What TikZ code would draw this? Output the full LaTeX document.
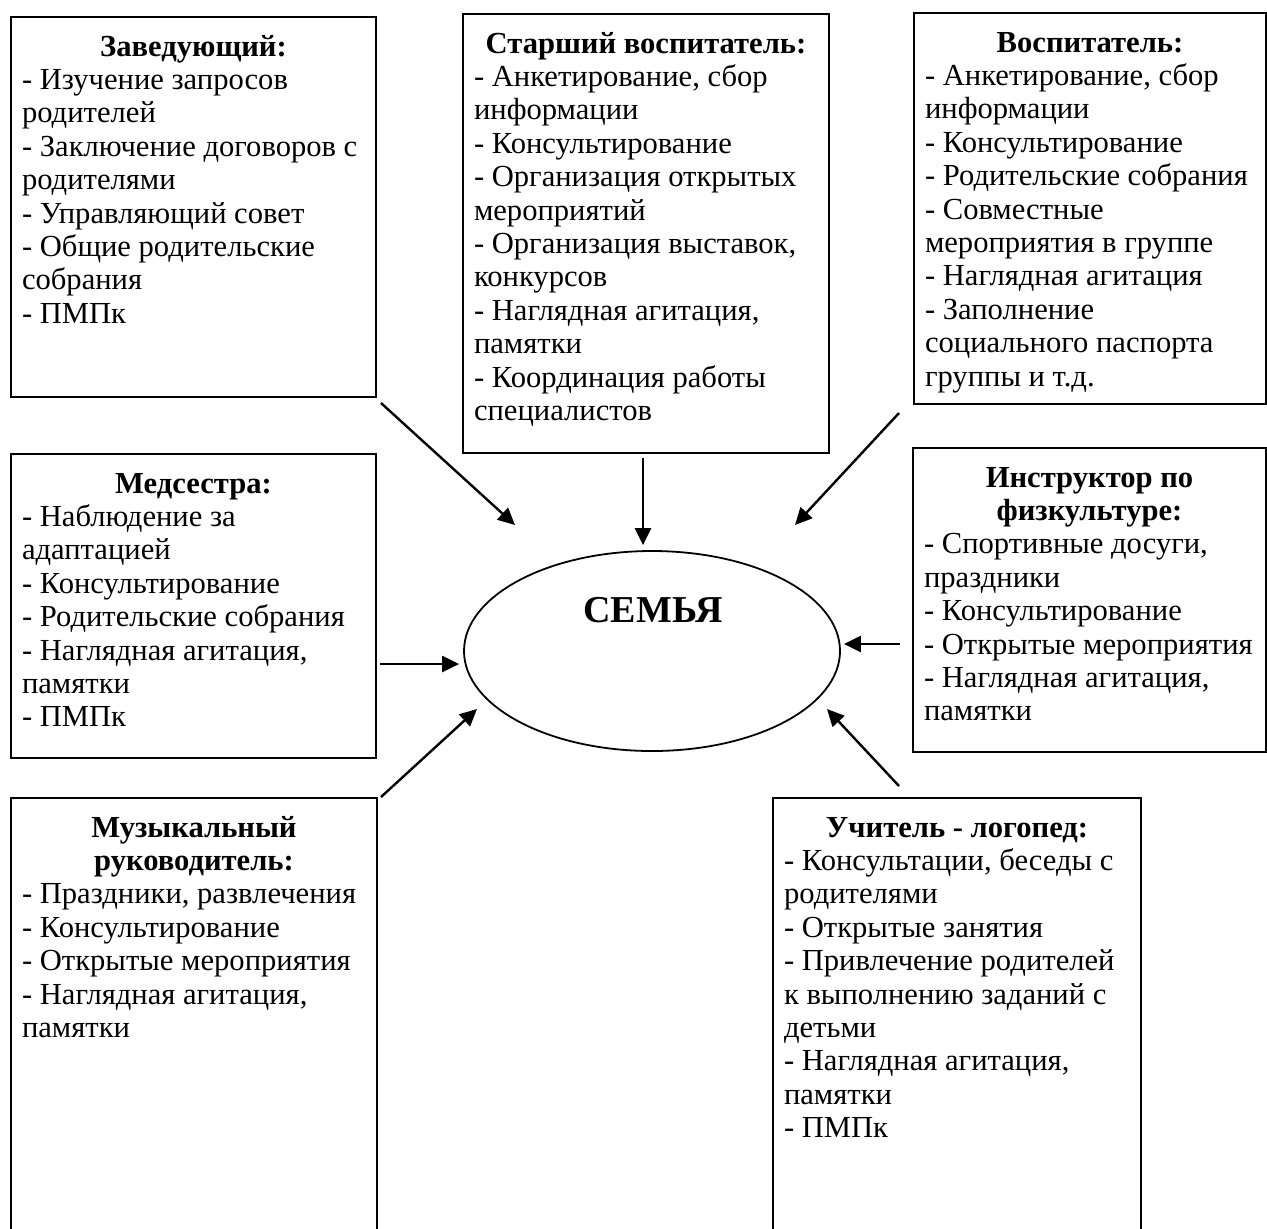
\documentclass[tikz,border=0pt]{standalone}
\usepackage{fontspec}
\setmainfont{Liberation Serif}
\usetikzlibrary{arrows.meta,shapes.geometric}

\newcommand{\cell}[3]{\parbox[t][#2][t]{#1}{\raggedright #3}}
\newcommand{\ttl}[1]{{\centering\bfseries\rule{0pt}{13.5pt}#1\par}}

\tikzset{
  box/.style={draw, line width=1pt, anchor=north west, inner xsep=5.5pt, inner ysep=6pt,
    font=\fontsize{15.3pt}{16.7pt}\selectfont},
  family/.style={draw, ellipse, line width=0.9pt, minimum width=188pt, minimum height=100pt, inner sep=0pt},
  link/.style={line width=1.2pt, -{Triangle[length=8.5pt,width=8pt]}}
}

\begin{document}
\begin{tikzpicture}[x=0.5pt, y=-0.5pt]
\useasboundingbox (0,0) rectangle (1267,1228);

% top row
\node[box] (zav) at (10,16) {\cell{171.5pt}{178pt}{\ttl{Заведующий:}
  - Изучение запросов\\ родителей\\
  - Заключение договоров с\\ родителями\\
  - Управляющий совет\\
  - Общие родительские\\ собрания\\
  - ПМПк}};
\node[box] (star) at (462,13) {\cell{172pt}{207.5pt}{\ttl{Старший воспитатель:}
  - Анкетирование, сбор\\ информации\\
  - Консультирование\\
  - Организация открытых\\ мероприятий\\
  - Организация выставок,\\ конкурсов\\
  - Наглядная агитация,\\ памятки\\
  - Координация работы\\ специалистов}};
\node[box] (vosp) at (913,12) {\cell{165pt}{183.5pt}{\ttl{Воспитатель:}
  - Анкетирование, сбор\\ информации\\
  - Консультирование\\
  - Родительские собрания\\
  - Совместные\\ мероприятия в группе\\
  - Наглядная агитация\\
  - Заполнение\\ социального паспорта\\ группы и т.д.}};

% middle row
\node[box] (med) at (10,453) {\cell{171.5pt}{140pt}{\ttl{Медсестра:}
  - Наблюдение за\\ адаптацией\\
  - Консультирование\\
  - Родительские собрания\\
  - Наглядная агитация,\\ памятки\\
  - ПМПк}};
\node[box] (instr) at (912,447) {\cell{165.5pt}{140pt}{\ttl{Инструктор по\\ физкультуре:}
  - Спортивные досуги,\\ праздники\\
  - Консультирование\\
  - Открытые мероприятия\\
  - Наглядная агитация,\\ памятки}};

% bottom row
\node[box] (muz) at (10,797) {\cell{172pt}{218pt}{\ttl{Музыкальный\\ руководитель:}
  - Праздники, развлечения\\
  - Консультирование\\
  - Открытые мероприятия\\
  - Наглядная агитация,\\ памятки}};
\node[box] (log) at (772,797) {\cell{173pt}{218pt}{\ttl{Учитель - логопед:}
  - Консультации, беседы с\\ родителями\\
  - Открытые занятия\\
  - Привлечение родителей\\ к выполнению заданий с\\ детьми\\
  - Наглядная агитация,\\ памятки\\
  - ПМПк}};

% centre
\node[family] (fam) at (652,651) {};
\node[font=\fontsize{19pt}{23pt}\selectfont\bfseries] (famtxt) at (653,610) {СЕМЬЯ};

% arrow ends
\coordinate (fromzav) at (381,403);
\coordinate (fromstar) at (643,458);
\coordinate (fromvosp) at (899,413);
\coordinate (frommed) at (380,664);
\coordinate (frominstr) at (900,644);
\coordinate (frommuz) at (381,797);
\coordinate (fromlog) at (899,786);
\coordinate (famnw) at (515,525);
\coordinate (famne) at (795,525);
\coordinate (famsw) at (477,709);
\coordinate (famse) at (827,709);

\path[link] (fromzav) edge (famnw)
  (fromstar) edge[shorten >=2.5pt] (fromstar |- fam.north)
  (fromvosp) edge (famne)
  (frommed) edge[shorten >=2pt] (frommed -| fam.west)
  (frominstr) edge[shorten >=1.5pt] (frominstr -| fam.east)
  (frommuz) edge (famsw)
  (fromlog) edge (famse);
\end{tikzpicture}
\end{document}
